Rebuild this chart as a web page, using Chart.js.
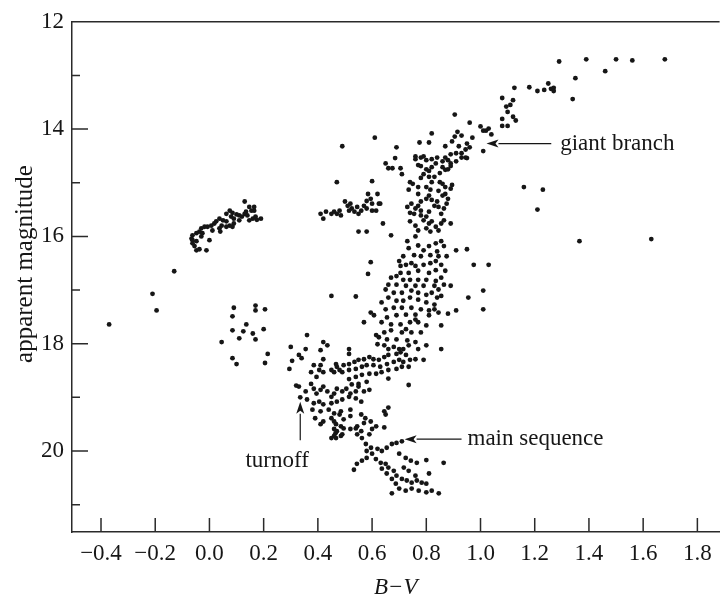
<!DOCTYPE html>
<html><head><meta charset="utf-8">
<script src="https://cdn.jsdelivr.net/npm/chart.js@4"></script>
<style>html,body{margin:0;padding:0;background:#fff}canvas{display:block}</style>
</head><body>
<canvas id="c" width="722" height="595" style="width:722px;height:595px"></canvas>
<script>
const xTickValues = [-0.4,-0.2,0.0,0.2,0.4,0.6,0.8,1.0,1.2,1.4,1.6,1.8];
const yTickValues = [12,14,16,18,20];
const yMinorTicks = [13,15,17,19,21];

const giantBranch = [
[1.29,12.74],[1.39,12.70],[1.50,12.70],[1.56,12.72],[1.68,12.70],[1.46,12.92],[1.35,13.05],[1.34,13.44],
[1.125,13.23],[1.18,13.22],[1.21,13.29],[1.235,13.27],[1.25,13.15],[1.26,13.25],[1.27,13.23],[1.27,13.29],
[1.08,13.42],[1.12,13.46],[1.11,13.55],[1.10,13.68],[1.095,13.58],[1.08,13.81],[1.13,13.84],[1.12,13.77],[1.08,13.94],[1.10,13.94],
[0.905,13.73],[0.96,13.88],[1.00,13.95],[1.01,14.03],[1.02,14.03],[1.03,13.99],[1.04,14.10],[0.97,14.16],[1.01,14.41],
[0.82,14.08],[0.915,14.05],[0.93,14.12],[0.905,14.14],[0.895,14.23],[0.92,14.32],[0.95,14.27],[0.945,14.38],[0.87,14.32],
[0.775,14.25],[0.81,14.25],[0.69,14.34],[0.91,14.45],[0.95,14.54],[0.685,14.54],[0.66,14.73],[0.675,14.73],[0.705,14.73],[0.71,14.84],
[0.96,14.34],[0.65,14.64],
[0.76,14.51],[0.78,14.53],[0.76,14.56],[0.79,14.51],[0.80,14.58],[0.77,14.67],[0.78,14.69],[0.82,14.56],[0.84,14.53],[0.835,14.64],
[0.86,14.60],[0.87,14.53],[0.89,14.47],[0.88,14.58],[0.89,14.64],[0.91,14.60],[0.93,14.53],[0.945,14.53],[0.93,14.45],
[0.80,14.75],[0.81,14.78],[0.82,14.71],[0.86,14.71],[0.87,14.76],[0.88,14.75],[0.89,14.69],[0.85,14.82],[0.83,14.89],[0.81,14.89],[0.78,14.91],[0.79,14.84],
[0.74,14.99],[0.75,15.02],[0.735,15.13],[0.77,15.08],[0.80,15.08],[0.815,15.13],[0.85,14.99],[0.86,15.02],[0.87,15.08],[0.89,15.11],[0.895,15.04],[0.845,15.15],[0.82,14.99],
[0.77,15.21],[0.81,15.24],[0.80,15.30],[0.78,15.35],[0.77,15.43],[0.745,15.39],[0.73,15.45],[0.74,15.56],[0.755,15.58],[0.76,15.48],
[0.82,15.32],[0.83,15.43],[0.84,15.35],[0.845,15.45],[0.855,15.58],[0.865,15.48],[0.875,15.39],[0.88,15.30],[0.86,15.24],[0.87,15.21],
[0.81,15.54],[0.78,15.52],[0.80,15.63],[0.78,15.61],
[0.74,15.72],[0.76,15.80],[0.79,15.70],[0.81,15.76],[0.82,15.72],[0.835,15.82],[0.855,15.76],[0.865,15.70],[0.89,15.76],[0.845,15.89],[0.80,15.85],[0.77,15.89],[0.815,15.91],
[0.64,15.76],[0.63,15.39]
];

const lowerGiantBranch = [
[0.76,16.00],[0.73,16.09],[0.735,16.22],[0.77,16.17],[0.79,16.26],[0.81,16.18],[0.835,16.13],[0.855,16.09],[0.865,16.18],
[0.815,16.35],[0.78,16.37],[0.755,16.35],[0.715,16.37],[0.845,16.37],[0.875,16.37],[0.84,16.28],
[0.70,16.46],[0.705,16.55],[0.725,16.53],[0.745,16.50],[0.76,16.55],[0.79,16.53],[0.815,16.50],[0.835,16.46],[0.855,16.53],
[0.87,16.64],[0.835,16.63],[0.81,16.68],[0.77,16.64],[0.735,16.68],[0.705,16.68],[0.69,16.74],[0.67,16.77],
[0.715,16.81],[0.74,16.81],[0.77,16.81],[0.80,16.81],[0.835,16.83],[0.855,16.77],[0.865,16.90],[0.83,16.92],[0.79,16.92],[0.76,16.92],[0.725,16.92],[0.69,16.90],[0.66,16.90],
[0.65,16.99],[0.68,17.05],[0.71,17.05],[0.745,17.01],[0.77,17.05],[0.80,17.09],[0.82,17.05],[0.845,16.99],
[0.74,17.14],[0.77,17.18],[0.80,17.23],[0.83,17.27],[0.715,17.20],[0.69,17.20],[0.66,17.14],[0.635,17.23],
[0.65,17.36],[0.68,17.33],[0.71,17.33],[0.745,17.33],[0.78,17.36],[0.81,17.38],[0.76,17.46],[0.725,17.46],[0.69,17.47],[0.655,17.51],
[0.635,17.60],[0.67,17.64],[0.705,17.64],[0.74,17.60],[0.77,17.60],[0.80,17.66],
[0.67,17.75],[0.71,17.79],[0.745,17.79],[0.78,17.79],[0.645,17.79],[0.625,17.88],[0.655,17.92],[0.69,17.92],[0.73,17.94],[0.76,17.97],
[0.68,18.06],[0.715,18.10],[0.77,18.10],[0.645,18.03],[0.62,18.01],
[0.725,17.73],[0.76,17.55],[0.81,17.47],[0.615,17.84],[0.66,18.10],[0.70,18.10],[0.735,18.03],[0.80,18.03],[0.83,17.36],[0.855,17.66],
[0.57,17.60],[0.595,17.42],[0.607,17.47]
];

const subgiantBranch = [
[0.45,18.49],[0.47,18.43],[0.495,18.40],[0.515,18.38],[0.535,18.34],[0.55,18.30],[0.57,18.29],[0.59,18.25],[0.605,18.29],[0.625,18.30],[0.645,18.25],[0.66,18.21],[0.69,18.19],[0.705,18.16],[0.725,18.21],
[0.49,18.53],[0.515,18.49],[0.54,18.47],[0.5625,18.43],[0.58,18.40],[0.605,18.40],[0.63,18.43],[0.655,18.38],[0.68,18.34],[0.70,18.30],[0.715,18.34],[0.74,18.30],[0.76,18.29],[0.79,18.30],
[0.515,18.66],[0.54,18.62],[0.5625,18.58],[0.59,18.56],[0.615,18.56],[0.635,18.53],[0.66,18.49],[0.69,18.47],[0.71,18.43],[0.735,18.43],
[0.55,18.75],[0.58,18.71],[0.525,18.76],[0.66,18.65],
[0.405,18.49],[0.46,18.53],[0.48,18.49],[0.467,18.38],[0.515,18.10],[0.515,18.19]
];

const turnoffRegion = [
[0.30,18.06],[0.33,18.21],[0.34,18.27],[0.295,18.47],[0.355,18.10],[0.305,18.32],[0.36,17.84],
[0.42,17.97],[0.435,18.03],[0.41,18.12],[0.42,18.29],[0.41,18.40],[0.42,18.53],[0.375,18.53],[0.385,18.40],[0.395,18.62],
[0.32,18.78],[0.33,18.80],[0.335,19.00],[0.355,18.89],[0.375,18.75],[0.385,18.84],[0.395,18.93],[0.41,18.86],[0.42,18.80],[0.435,18.89],
[0.45,18.99],[0.46,18.93],[0.47,18.84],[0.49,18.89],[0.505,18.84],[0.52,18.93],[0.54,18.89],[0.55,18.80],[0.57,18.89],[0.59,18.86],
[0.36,19.04],[0.385,19.11],[0.405,19.08],[0.42,19.13],[0.45,19.11],[0.47,19.08],[0.49,19.04],[0.515,18.99],[0.54,19.02],[0.56,19.08],
[0.38,19.23],[0.41,19.26],[0.44,19.23],[0.46,19.30],[0.485,19.26],[0.52,19.23],
[0.39,19.39],[0.42,19.45],[0.46,19.45],[0.495,19.41],[0.52,19.35],[0.56,19.32],[0.595,19.45],[0.57,19.48],[0.545,19.54],[0.495,19.58],[0.46,19.59],[0.41,19.50],
[0.645,19.26],[0.66,19.19],[0.735,18.77],
[0.485,19.54],[0.465,19.67],[0.485,19.72],[0.46,19.72],[0.45,19.76]
];

const mainSequence = [
[0.65,19.32],[0.48,19.32],[0.45,19.39],[0.467,19.50],[0.47,19.63],[0.49,19.69],[0.467,19.76],
[0.52,19.59],[0.54,19.58],[0.56,19.63],[0.545,19.69],[0.5625,19.76],[0.575,19.39],[0.60,19.59],[0.615,19.54],[0.645,19.56],[0.59,19.69],
[0.577,19.87],[0.596,19.94],[0.58,20.00],[0.60,20.05],[0.62,19.96],[0.636,20.00],[0.654,19.94],[0.673,19.87],[0.69,19.85],[0.71,19.82],
[0.70,20.05],[0.724,20.13],[0.743,20.18],[0.765,20.22],[0.80,20.17],[0.864,20.22],
[0.5625,20.18],[0.544,20.24],[0.533,20.35],[0.58,20.13],[0.614,20.15],[0.632,20.22],[0.65,20.24],[0.66,20.31],[0.68,20.37],[0.69,20.46],[0.71,20.52],[0.728,20.55],[0.746,20.59],[0.765,20.55],[0.783,20.59],[0.80,20.61],
[0.636,20.33],[0.654,20.42],[0.673,20.52],[0.6875,20.61],[0.70,20.70],[0.724,20.74],[0.746,20.70],[0.772,20.74],[0.80,20.77],[0.82,20.74],[0.846,20.79],[0.673,20.79],
[0.735,20.37],[0.76,20.46],[0.81,20.42],[0.717,20.31]
];

const redHorizontalBranch = [
[0.41,15.58],[0.42,15.67],[0.43,15.54],[0.45,15.58],[0.46,15.54],[0.47,15.58],[0.48,15.52],[0.485,15.61],[0.50,15.35],[0.51,15.43],[0.52,15.39],[0.515,15.52],[0.525,15.48],[0.535,15.54],[0.545,15.45],[0.55,15.58],[0.56,15.52],[0.57,15.43],[0.58,15.34],[0.585,15.21],[0.595,15.30],[0.60,15.39],[0.62,15.21],[0.625,15.39],[0.615,15.52],[0.60,15.52],[0.58,15.48]
];

const blueHorizontalBranch = [
[0.13,15.35],[0.147,15.45],[0.165,15.45],[0.165,15.52],[0.155,15.52],[0.135,15.54],[0.17,15.63],[0.19,15.67],[0.175,15.69],[0.16,15.67],[0.147,15.70],
[0.12,15.63],[0.11,15.61],[0.10,15.59],[0.085,15.56],[0.075,15.52],[0.0625,15.58],[0.08,15.63],[0.09,15.67],[0.11,15.70],[0.09,15.76],[0.075,15.80],
[0.0625,15.72],[0.05,15.70],[0.037,15.67],[0.025,15.72],[0.045,15.80],[0.037,15.85],[0.04,15.91],[0.018,15.76],[0.007,15.80],[-0.007,15.82],[-0.018,15.82],
[-0.03,15.85],[-0.037,15.91],[-0.048,15.94],[-0.0625,15.98],[-0.066,16.04],[-0.0625,16.07],[-0.048,16.09],[-0.0625,16.13],[-0.055,16.18],[-0.048,16.26],
[-0.037,16.24],[-0.011,16.26],[-0.03,16.00],[-0.026,15.94],[0.0,16.07],[0.011,15.89],[0.0625,15.82],[0.085,15.82],[0.13,15.58],[0.14,15.61]
];

const blueStragglers = [
[0.09,17.33],[0.085,17.49],[0.085,17.75],[0.11,17.90],[0.125,17.77],[0.136,17.64],[0.16,17.81],[0.17,17.92],[0.17,17.29],[0.17,17.38],[0.205,17.36],[0.20,17.73],
[0.045,17.97],[0.085,18.27],[0.10,18.38],[0.215,18.19],[0.205,18.36]
];

const fieldStars = [
[0.61,14.16],[0.49,14.32],[0.47,14.99],[0.60,14.97],[1.16,15.08],[1.23,15.13],[1.21,15.50],[1.365,16.09],[1.63,16.05],
[0.55,15.91],[0.58,15.91],[0.67,15.98],[0.595,16.48],[0.585,16.70],[0.45,17.11],[0.54,17.12],
[0.91,16.26],[0.95,16.24],[0.975,16.53],[1.03,16.53],[0.955,17.14],[1.01,17.01],[1.01,17.36],[0.89,16.92],[0.855,17.11],[0.84,17.14],[0.91,17.38],[0.88,17.44],[0.845,17.42],[0.855,18.10],
[-0.13,16.65],[-0.21,17.07],[-0.195,17.38],[-0.37,17.64]
];

const annotations = [
  {text:'giant branch', tip:[1.022,14.27], tail:[1.261,14.27], label:[1.294,14.27], align:'left'},
  {text:'main sequence', tip:[0.72,19.78], tail:[0.93,19.78], label:[0.952,19.78], align:'left'},
  {text:'turnoff', tip:[0.335,19.08], tail:[0.335,19.80], label:[0.25,20.18], align:'center'}
];

const serif = '"Liberation Serif", "DejaVu Serif", serif';
const ink = '#161616';
Chart.defaults.font.family = serif;
Chart.defaults.color = ink;

const groups = [giantBranch, lowerGiantBranch, subgiantBranch, turnoffRegion, mainSequence,
                redHorizontalBranch, blueHorizontalBranch, blueStragglers, fieldStars];

const decor = {
  id: 'decor',
  afterDraw(chart) {
    const {ctx, chartArea: a, scales: {x, y}} = chart;
    ctx.save();
    ctx.strokeStyle = '#2a2a2a';
    ctx.lineWidth = 1.5;
    ctx.beginPath();
    ctx.moveTo(a.left, a.top); ctx.lineTo(a.right, a.top);
    xTickValues.forEach(v => { const px = x.getPixelForValue(v); ctx.moveTo(px, a.bottom); ctx.lineTo(px, a.bottom - 14); });
    yTickValues.forEach(v => { const py = y.getPixelForValue(v); ctx.moveTo(a.left, py); ctx.lineTo(a.left + 16, py); });
    yMinorTicks.forEach(v => { const py = y.getPixelForValue(v); ctx.moveTo(a.left, py); ctx.lineTo(a.left + 8, py); });
    ctx.stroke();

    ctx.fillStyle = ink;
    ctx.strokeStyle = ink;
    ctx.lineWidth = 1.2;
    ctx.font = '23px ' + serif;
    ctx.textBaseline = 'middle';
    annotations.forEach(an => {
      const tx = x.getPixelForValue(an.tip[0]), ty = y.getPixelForValue(an.tip[1]);
      const sx = x.getPixelForValue(an.tail[0]), sy = y.getPixelForValue(an.tail[1]);
      const ang = Math.atan2(ty - sy, tx - sx);
      const L = 12, W = 4;
      const bx = tx - L * Math.cos(ang), by = ty - L * Math.sin(ang);
      ctx.beginPath(); ctx.moveTo(sx, sy); ctx.lineTo(bx, by); ctx.stroke();
      ctx.beginPath();
      ctx.moveTo(tx, ty);
      ctx.lineTo(bx + W * Math.sin(ang), by - W * Math.cos(ang));
      ctx.lineTo(bx + 3 * Math.cos(ang), by + 3 * Math.sin(ang));
      ctx.lineTo(bx - W * Math.sin(ang), by + W * Math.cos(ang));
      ctx.closePath(); ctx.fill();
      ctx.textAlign = an.align;
      ctx.fillText(an.text, x.getPixelForValue(an.label[0]), y.getPixelForValue(an.label[1]));
    });

    ctx.save();
    ctx.translate(32, 264);
    ctx.rotate(-Math.PI / 2);
    ctx.textAlign = 'center';
    ctx.textBaseline = 'alphabetic';
    ctx.font = '25px ' + serif;
    ctx.fillText('apparent magnitude', 0, 0);
    ctx.restore();
    ctx.restore();
  }
};

new Chart(document.getElementById('c'), {
  type: 'scatter',
  data: {
    datasets: groups.map(g => ({
      data: g.map(p => ({x: p[0], y: p[1]})),
      pointRadius: 2.4,
      pointHoverRadius: 2.4,
      pointBackgroundColor: ink,
      pointBorderWidth: 0,
      showLine: false
    }))
  },
  options: {
    responsive: false,
    animation: false,
    events: [],
    layout: {padding: {top: 16, right: 0, left: 0, bottom: 0}},
    plugins: {legend: {display: false}, tooltip: {enabled: false}},
    scales: {
      x: {
        type: 'linear', position: 'bottom', min: -0.507, max: 1.882,
        grid: {display: false, drawTicks: false},
        border: {display: true, color: '#2a2a2a', width: 1.5},
        afterBuildTicks: s => { s.ticks = xTickValues.map(v => ({value: v})); },
        afterFit: s => { s.height = 63; },
        ticks: {
          padding: 8, color: ink, font: {size: 23, family: serif},
          maxRotation: 0, autoSkip: false,
          callback: v => (v < -1e-9 ? '\u2212' : '') + Math.abs(v).toFixed(1)
        },
        title: {display: true, text: 'B\u2212V', color: ink, font: {size: 23, style: 'italic', family: serif}, padding: {top: 0, bottom: -7}}
      },
      y: {
        type: 'linear', position: 'left', min: 12, max: 21.51, reverse: true,
        grid: {display: false, drawTicks: false},
        border: {display: true, color: '#2a2a2a', width: 1.5},
        afterBuildTicks: s => { s.ticks = yTickValues.map(v => ({value: v})); },
        afterFit: s => { s.width = 72; },
        ticks: {padding: 8, color: ink, font: {size: 23, family: serif}, callback: v => String(v)}
      }
    }
  },
  plugins: [decor]
});
</script>
</body></html>
